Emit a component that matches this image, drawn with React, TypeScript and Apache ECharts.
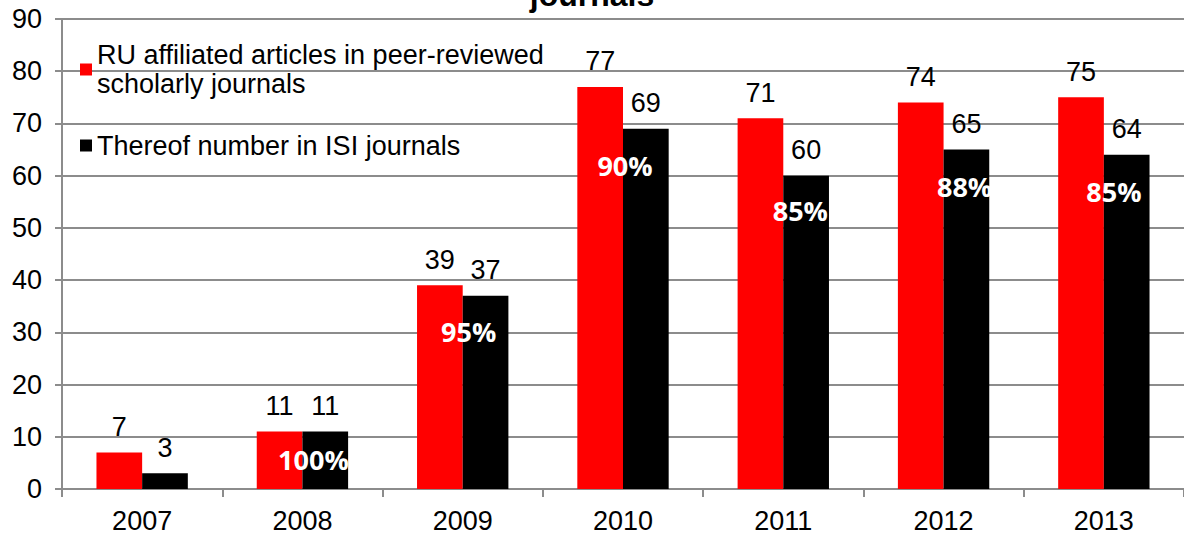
import React, { useEffect, useRef } from "react";
import * as echarts from "echarts";

const categories = ["2007", "2008", "2009", "2010", "2011", "2012", "2013"];
const ruArticles = [7, 11, 39, 77, 71, 74, 75];
const isiArticles = [3, 11, 37, 69, 60, 65, 64];
// where each share label sits (in axis units) and its horizontal nudge in px
const shareAnchor: (number | null)[] = [null, 5.6, 30.1, 61.9, 53.3, 57.9, 56.9];
const shareShift = [0, 11, 6, 2, 17, 21, 10];
const yTicks = { min: 0, max: 90, interval: 10 };

const FONT = "'Liberation Sans', Arial, sans-serif";
const FS = 27;

export default function App() {
  const ref = useRef<HTMLDivElement>(null);
  useEffect(() => {
    if (!ref.current) return;
    const chart = echarts.init(ref.current, undefined, { renderer: "svg" });
    const shareData = categories
      .map((c, i) => {
        if (shareAnchor[i] == null) return null;
        const pct = Math.round((isiArticles[i] / ruArticles[i]) * 100) + "%";
        return {
          value: [c, shareAnchor[i]],
          name: pct,
          label: { offset: [shareShift[i], 0] },
        };
      })
      .filter(Boolean);

    const valueLabel = {
      show: true,
      position: "top",
      distance: 12,
      fontFamily: FONT,
      fontSize: FS,
      color: "#000",
    };

    chart.setOption({
      animation: false,
      textStyle: { fontFamily: FONT },
      title: {
        text: "journals",
        left: "center",
        top: -26,
        textStyle: { fontFamily: FONT, fontSize: 32, fontWeight: "bold", color: "#000" },
      },
      legend: {
        orient: "vertical",
        left: 80,
        top: 26,
        padding: 0,
        itemWidth: 12,
        itemHeight: 12,
        itemGap: 18,
        icon: "rect",
        textStyle: {
          fontFamily: FONT,
          fontSize: FS,
          color: "#000",
          lineHeight: 29,
        },
        data: [
          {
            name: "RU affiliated articles in peer-reviewed\nscholarly journals",
            textStyle: { padding: [29, 0, 0, 0] },
          },
          { name: "Thereof number in ISI journals" },
        ],
      },
      grid: { left: 62, right: -2, top: 19, bottom: 47, containLabel: false },
      xAxis: {
        type: "category",
        data: categories,
        axisLine: { lineStyle: { color: "#8c8c8c", width: 2 } },
        axisTick: { show: true, length: 8, lineStyle: { color: "#8c8c8c", width: 2 } },
        axisLabel: { fontFamily: FONT, fontSize: FS, color: "#000", margin: 18 },
      },
      yAxis: {
        type: "value",
        min: yTicks.min,
        max: yTicks.max,
        interval: yTicks.interval,
        axisLine: { show: true, lineStyle: { color: "#8c8c8c", width: 2 } },
        axisTick: { show: true, length: 7, lineStyle: { color: "#8c8c8c", width: 2 } },
        axisLabel: { fontFamily: FONT, fontSize: FS, color: "#000", margin: 20 },
        splitLine: { lineStyle: { color: "#8c8c8c", width: 2 } },
      },
      series: [
        {
          name: "RU affiliated articles in peer-reviewed\nscholarly journals",
          type: "bar",
          data: ruArticles,
          barGap: "0%",
          barCategoryGap: "43%",
          itemStyle: { color: "#ff0000" },
          label: valueLabel,
        },
        {
          name: "Thereof number in ISI journals",
          type: "bar",
          data: isiArticles,
          barGap: "0%",
          barCategoryGap: "43%",
          itemStyle: { color: "#000000" },
          label: valueLabel,
        },
        {
          name: "share",
          type: "scatter",
          data: shareData,
          symbolSize: 0,
          silent: true,
          z: 10,
          itemStyle: { opacity: 1, color: "rgba(0,0,0,0)" },
          label: {
            show: true,
            position: "inside",
            formatter: (p: any) => p.name,
            fontFamily: "'Open Sans', 'Noto Sans', sans-serif",
            fontWeight: "bold",
            fontSize: 27,
            color: "#ffffff",
            opacity: 1,
          },
        },
      ],
    });
    return () => chart.dispose();
  }, []);
  return (
    <div
      ref={ref}
      style={{ position: "fixed", left: 0, top: 0, width: 1184, height: 536, background: "#fff" }}
    />
  );
}
